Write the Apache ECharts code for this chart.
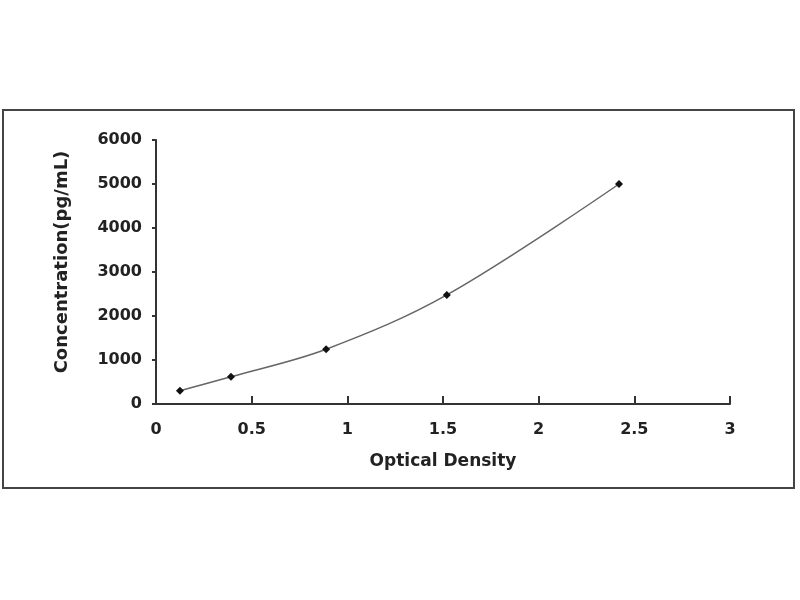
<!DOCTYPE html>
<html><head><meta charset="utf-8">
<script src="https://cdn.jsdelivr.net/npm/echarts@6/dist/echarts.min.js"></script>
<style>html,body{margin:0;padding:0;background:#fff}#c{width:800px;height:600px}</style>
</head><body><div id="c"></div>
<script>
const opticalDensity = [0.125, 0.392, 0.889, 1.52, 2.42];
const concentration = [300, 620, 1245, 2480, 5000];
const xTicks = [0, 0.5, 1, 1.5, 2, 2.5, 3];
const yTicks = [0, 1000, 2000, 3000, 4000, 5000, 6000];
const xTitle = 'Optical Density';
const yTitle = 'Concentration(pg/mL)';

const font = 'DejaVu Sans';
const txt = '#222';
const chart = echarts.init(document.getElementById('c'));
chart.setOption({
  animation: false,
  backgroundColor: '#fff',
  graphic: [{
    type: 'rect',
    shape: { x: 3, y: 110, width: 791, height: 378 },
    style: { fill: 'none', stroke: '#444', lineWidth: 2 }
  }],
  grid: { left: 156, right: 70, top: 140, bottom: 196 },
  xAxis: {
    type: 'value', min: xTicks[0], max: xTicks[xTicks.length - 1], interval: 0.5,
    name: xTitle, nameLocation: 'middle', nameGap: 49,
    nameTextStyle: { fontFamily: font, fontWeight: 'bold', fontSize: 17, color: txt },
    axisLine: { show: true, lineStyle: { color: '#333', width: 2 } },
    axisTick: { show: true, inside: true, length: 8, lineStyle: { color: '#333', width: 2 } },
    axisLabel: { margin: 18, fontFamily: font, fontWeight: 'bold', fontSize: 16, color: txt,
      formatter: v => String(v) },
    splitLine: { show: false }
  },
  yAxis: {
    type: 'value', min: yTicks[0], max: yTicks[yTicks.length - 1], interval: 1000,
    name: yTitle, nameLocation: 'middle', nameGap: 85, nameRotate: 90,
    nameTextStyle: { fontFamily: font, fontWeight: 'bold', fontSize: 18, color: txt,
      padding: [0, 0, 0, 20] },
    axisLine: { show: true, lineStyle: { color: '#333', width: 2 } },
    axisTick: { show: true, inside: false, length: 4, lineStyle: { color: '#333', width: 2 } },
    axisLabel: { margin: 14, fontFamily: font, fontWeight: 'bold', fontSize: 16, color: txt,
      formatter: v => String(v) },
    splitLine: { show: false }
  },
  series: [{
    type: 'line', smooth: 0.35,
    data: opticalDensity.map((x, i) => [x, concentration[i]]),
    symbol: 'diamond', symbolSize: 8,
    itemStyle: { color: '#111' },
    lineStyle: { color: '#666', width: 1.5 }
  }]
});
</script></body></html>
